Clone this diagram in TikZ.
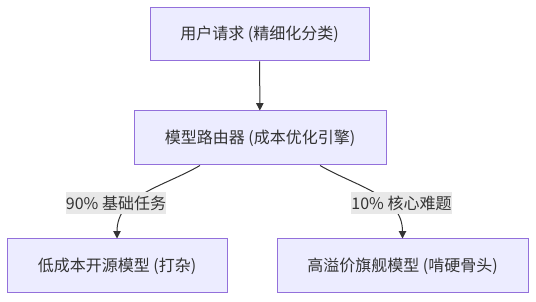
\documentclass[tikz,border=0pt]{standalone}
\usepackage{fontspec}
\setmainfont{Noto Sans CJK SC}
\usetikzlibrary{arrows.meta}
\definecolor{boxfill}{HTML}{ECECFF}
\definecolor{boxline}{HTML}{9370DB}
\definecolor{inkgray}{HTML}{333333}
\definecolor{tagfill}{HTML}{E8E8E8}
\begin{document}
\begin{tikzpicture}[x=0.75pt, y=-0.75pt, font=\fontsize{12}{14}\selectfont,
    stage/.style={draw=boxline, fill=boxfill, line width=0.75pt, text=inkgray,
      minimum height=40.5pt, inner sep=0pt},
    tag/.style={fill=tagfill, text=inkgray, inner xsep=0pt, inner ysep=0pt,
      minimum height=17pt},
    flow/.style={draw=inkgray, line width=0.75pt,
      -{Triangle[length=5.5pt, width=5.5pt]}}]
  \useasboundingbox (0,0) rectangle (536,302);
  \node[stage, minimum width=164.25pt, minimum height=39.75pt] (request) at (259.5,34.5)
    {用户请求 (精细化分类)};
  \node[stage, minimum width=189pt] (router) at (260,138) {模型路由器 (成本优化引擎)};
  \draw[flow] (request) -- (router);
  \foreach \n/\x/\w/\o/\s/\t/\l in {
      cheap/117/165pt/-150/-45pt/{低成本开源模型 (打杂)}/{90\% 基础任务},
      flagship/402.5/188.25pt/-30/45pt/{高溢价旗舰模型 (啃硬骨头)}/{10\% 核心难题}} {
    \node[stage, minimum width=\w] (\n) at (\x,266) {\t};
    \draw[flow] ([xshift=\s]router.south) to[out=\o, in=90] (\n.north);
    \node[tag] (\n-tag) at (\x-1,203) {\l};
  }
\end{tikzpicture}
\end{document}
